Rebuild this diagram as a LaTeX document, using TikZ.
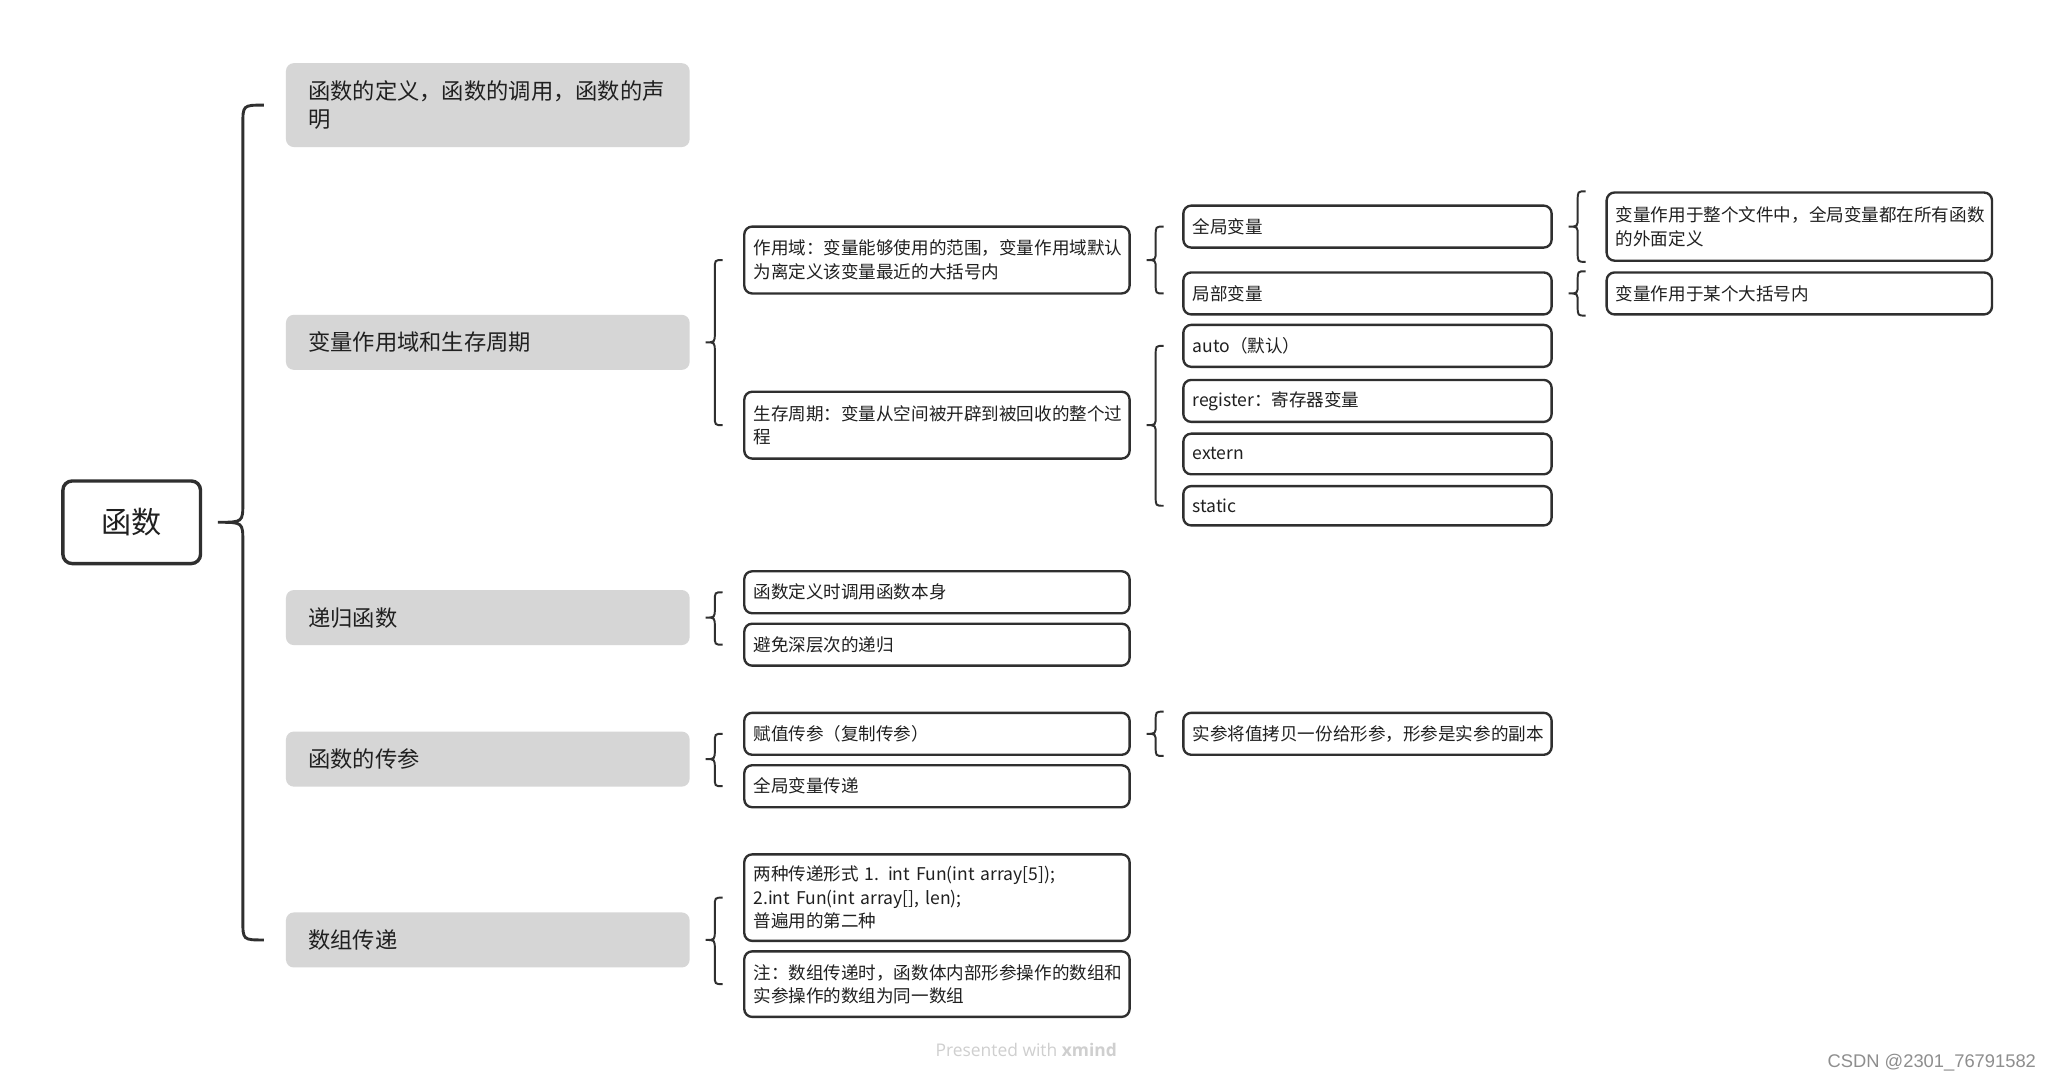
\documentclass[tikz,border=0pt]{standalone}
\usepackage{fontspec}
\setmainfont{Noto Sans CJK SC}
\newfontfamily\footfont{Open Sans}
\newfontfamily\wmfont{Liberation Sans}
\usetikzlibrary{calc}
\definecolor{boxgray}{HTML}{D6D6D6}
\definecolor{linec}{HTML}{2F2F2F}
\definecolor{txt}{HTML}{202020}
\definecolor{footgray}{HTML}{CFCFCF}
\definecolor{wmgray}{HTML}{8E8E8E}
% #1 parent, #2 top point, #3 bottom point, #4 tip->vertical, #5 tip->end, #6 radius, #7 style
\newcommand\mybrace[7]{%
  \coordinate (T) at ($(#1.east)+(12,0)$);
  \coordinate (V) at ($(T)+(#4,0)$);
  \coordinate (E) at ($(T)+(#5,0)$);
  \draw[#7] (E |- #2) .. controls (V |- #2) .. ($(V |- #2)+(0,#6)$)
    -- ($(V |- T)+(0,-#6)$) .. controls (V |- T) .. (T)
    .. controls (V |- T) .. ($(V |- T)+(0,#6)$)
    -- ($(V |- #3)+(0,-#6)$) .. controls (V |- #3) .. (E |- #3);
}
\begin{document}
\begin{tikzpicture}[x=1bp,y=-1bp,
  rootbox/.style={draw=linec, line width=2.6bp, rounded corners=7bp, minimum width=105bp, minimum height=63bp, inner sep=0pt, font=\fontsize{23bp}{28bp}\selectfont, text=txt},
  topic/.style={fill=boxgray, rounded corners=6bp, anchor=north west, text width=274bp, inner xsep=17bp, inner ysep=0pt, align=left, font=\fontsize{17bp}{22bp}\selectfont, text=txt},
  sub/.style={draw=linec, line width=1.8bp, rounded corners=6bp, fill=white, anchor=north west, inner xsep=7bp, inner ysep=0pt, align=left, font=\fontsize{13.4bp}{18bp}\selectfont, text=txt},
  w294/.style={text width=280bp},
  w281/.style={text width=267bp},
  bigbrace/.style={draw=linec, line width=2.2bp},
  smallbrace/.style={draw=linec, line width=1.5bp},
]
\fill[white] (0,0) rectangle (1568,825);
\useasboundingbox (0,0) rectangle (1568,825);

\node[rootbox] (root) at (100.5,398.5) {函数};

\node[topic, minimum height=64bp] (g1) at (218,48) {函数的定义，函数的调用，函数的声\\明};
\node[topic, minimum height=42bp] (g2) at (218,240) {变量作用域和生存周期};
\node[topic, minimum height=42bp] (g3) at (218,450) {递归函数};
\node[topic, minimum height=42bp] (g4) at (218,558) {函数的传参};
\node[topic, minimum height=42bp] (g5) at (218,696) {数组传递};

\node[sub,w294,minimum height=51bp] (s1) at (567,172) {作用域：变量能够使用的范围，变量作用域默认\\为离定义该变量最近的大括号内};
\node[sub,w294,minimum height=51bp] (s2) at (567,298) {生存周期：变量从空间被开辟到被回收的整个过\\程};
\node[sub,w294,minimum height=32bp] (r1) at (567,435) {函数定义时调用函数本身};
\node[sub,w294,minimum height=32bp] (r2) at (567,475) {避免深层次的递归};
\node[sub,w294,minimum height=32bp] (p1) at (567,543) {赋值传参（复制传参）};
\node[sub,w294,minimum height=32bp] (p2) at (567,583) {全局变量传递};
\node[sub,w294,minimum height=66bp] (a1) at (567,651) {两种传递形式 1. int Fun(int array[5]);\\2.int Fun(int array[], len);\\普遍用的第二种};
\node[sub,w294,minimum height=50bp] (a2) at (567,725) {注：数组传递时，函数体内部形参操作的数组和\\实参操作的数组为同一数组};

\node[sub,w281,minimum height=32bp] (v1) at (902,156) {全局变量};
\node[sub,w281,minimum height=32bp] (v2) at (902,207) {局部变量};
\node[sub,w281,minimum height=32bp] (l1) at (902,247) {auto（默认）};
\node[sub,w281,minimum height=32bp] (l2) at (902,289) {register：寄存器变量};
\node[sub,w281,minimum height=31bp] (l3) at (902,330) {extern};
\node[sub,w281,minimum height=30bp] (l4) at (902,370) {static};
\node[sub,w281,minimum height=32bp] (c1) at (902,543) {实参将值拷贝一份给形参，形参是实参的副本};

\node[sub,w294,minimum height=52bp] (w1) at (1225,146) {变量作用于整个文件中，全局变量都在所有函数\\的外面定义};
\node[sub,w294,minimum height=32bp] (w2) at (1225,207) {变量作用于某个大括号内};

\mybrace{root}{g1}{g5}{19}{35}{15}{bigbrace}
\mybrace{g2}{s1}{s2}{7}{13}{7}{smallbrace}
\mybrace{g3}{r1}{r2}{7}{13}{7}{smallbrace}
\mybrace{g4}{p1}{p2}{7}{13}{7}{smallbrace}
\mybrace{g5}{a1}{a2}{7}{13}{7}{smallbrace}
\mybrace{s1}{v1}{v2}{7}{13}{7}{smallbrace}
\mybrace{s2}{l1}{l4}{7}{13}{7}{smallbrace}
\mybrace{v1}{w1.north}{w1.south}{7}{13}{7}{smallbrace}
\mybrace{v2}{w2.north}{w2.south}{7}{13}{7}{smallbrace}
\mybrace{p1}{c1.north}{c1.south}{7}{13}{7}{smallbrace}

\node[font=\footfont\fontsize{13.3bp}{16bp}\selectfont, text=footgray] (foot) at (783,801) {Presented with {\bfseries xmind}};
\node[font=\wmfont\fontsize{14bp}{16bp}\selectfont, text=wmgray, anchor=east] (wm) at (1557,811) {CSDN @2301\_76791582};
\end{tikzpicture}
\end{document}
